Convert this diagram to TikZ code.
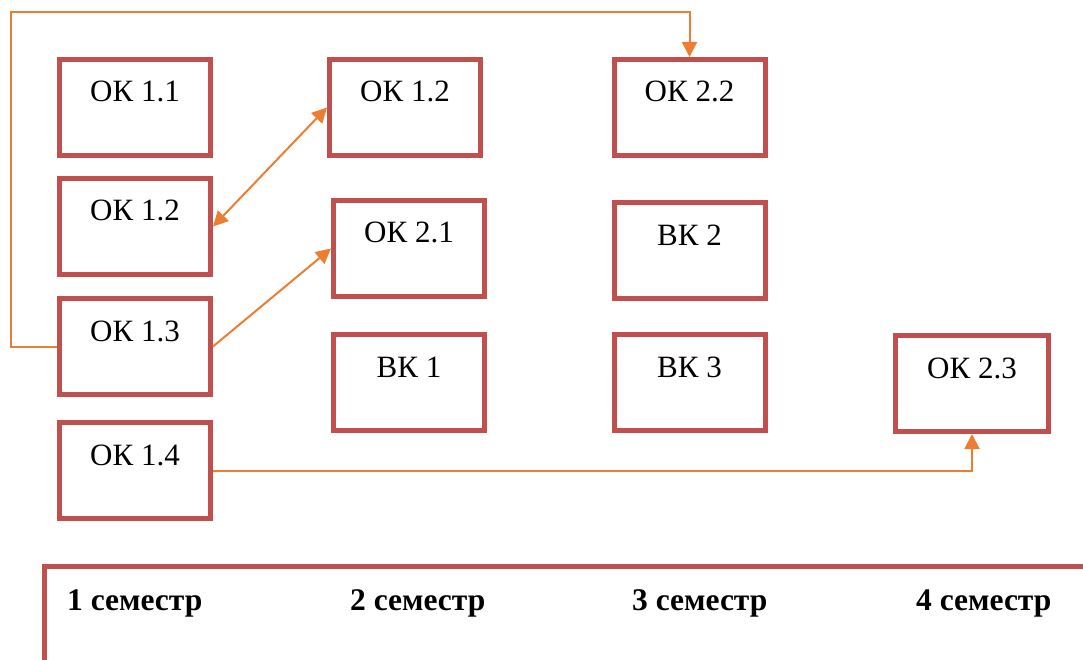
\documentclass[tikz,border=0pt]{standalone}
\usepackage{fontspec}
\setmainfont{Liberation Serif}
\usetikzlibrary{arrows.meta}
\definecolor{boxred}{HTML}{C0504D}
\definecolor{arrorange}{HTML}{ED7D31}
\tikzset{
  okbox/.style={draw=boxred, line width=5pt, rectangle, anchor=north, inner sep=0pt,
    minimum width=151pt, text height=42.5pt, text depth=53.5pt, font=\fontsize{31}{31}\selectfont},
  link/.style={draw=arrorange, line width=2pt},
  tip/.style={-{Triangle[length=15pt,width=15pt]}},
  semtext/.style={anchor=base west, inner sep=0pt, font=\fontsize{31.5}{31.5}\selectfont\bfseries},
}
\begin{document}
\begin{tikzpicture}[x=1pt,y=-1pt]
\useasboundingbox (0,0) rectangle (1083,660);
% bottom band
\begin{scope}
\clip (0,0) rectangle (1083,660);
\draw[boxred, line width=5pt] (44.5,566.5) rectangle (1100,690);
\end{scope}
\node[semtext] (s1) at (67,610) {1 семестр};
\node[semtext] (s2) at (350,610) {2 семестр};
\node[semtext] (s3) at (632,610) {3 семестр};
\node[semtext] (s4) at (916,610) {4 семестр};
% boxes
\node[okbox] (ok11) at (135,57) {ОК 1.1};
\node[okbox] (ok12a) at (135,176) {ОК 1.2};
\node[okbox] (ok13) at (135,296) {ОК 1.3};
\node[okbox] (ok14) at (135,420) {ОК 1.4};
\node[okbox] (ok12b) at (405,57) {ОК 1.2};
\node[okbox] (ok21) at (409,198) {ОК 2.1};
\node[okbox] (vk1) at (409,332) {ВК 1};
\node[okbox] (ok22) at (689.5,57) {ОК 2.2};
\node[okbox] (vk2) at (689.5,200) {ВК 2};
\node[okbox] (vk3) at (689.5,332) {ВК 3};
\node[okbox, minimum width=153pt] (ok23) at (972,333) {ОК 2.3};
% connectors
\coordinate (c1) at (11,12);
\draw[link, tip] (ok13.west) -| (c1) -| (ok22.north);
\draw[link, {Triangle[length=15pt,width=15pt]}-{Triangle[length=15pt,width=15pt]}] (ok12a.east) -- (ok12b.west);
\draw[link, tip] (ok13.east) -- (ok21.west);
\draw[link, tip] (ok14.east) -| (ok23.south);
\end{tikzpicture}
\end{document}
